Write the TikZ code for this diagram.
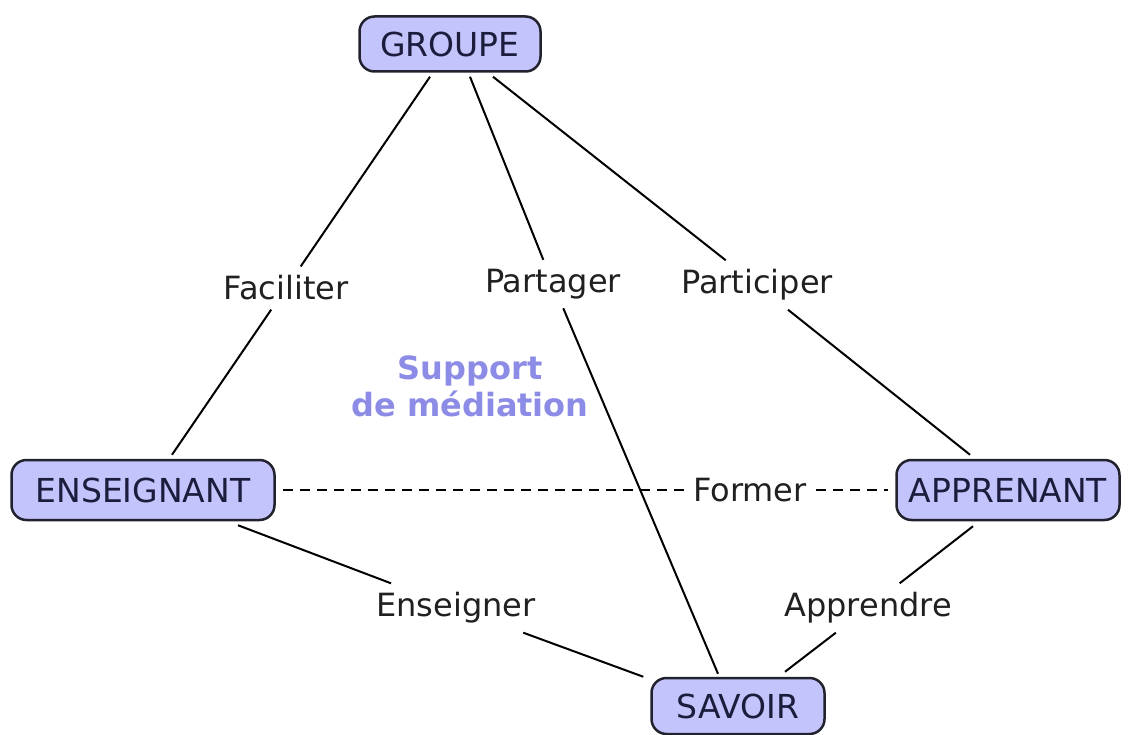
\documentclass[tikz,border=0pt]{standalone}
\usepackage{fontspec}
\setmainfont{DejaVu Sans}
\definecolor{boxfill}{HTML}{C4C4FC}
\definecolor{boxtext}{HTML}{1C1C3C}
\definecolor{boxdraw}{HTML}{22222E}
\definecolor{suppcol}{HTML}{8C8CE6}
\definecolor{labtext}{HTML}{202020}
\begin{document}
\begin{tikzpicture}[x=1pt,y=-1pt,
  concept/.style={draw=boxdraw, line width=2.5pt, fill=boxfill, rounded corners=15pt,
     text=boxtext, font=\fontsize{33}{38}\selectfont, inner sep=0pt},
  lab/.style={text=labtext, font=\fontsize{32}{37}\selectfont, inner sep=9pt},
  link/.style={draw=black, line width=2pt},
  dlink/.style={draw=black, line width=2pt, dash pattern=on 10pt off 7pt}]
\useasboundingbox (0,0) rectangle (1129,735);
\node[concept, minimum width=181pt, minimum height=55pt] (G) at (450,44) {GROUPE};
\node[concept, minimum width=263pt, minimum height=60pt] (E) at (143,490) {ENSEIGNANT};
\node[concept, minimum width=223pt, minimum height=60pt] (A) at (1008,490) {APPRENANT};
\node[concept, minimum width=173pt, minimum height=56pt] (S) at (738,706) {SAVOIR};

\node[lab] (fac) at (286,288) {Faciliter};
\node[lab] (par) at (553,284) {Partager};
\node[lab] (pcp) at (757,285) {Participer};
\node[lab] (for) at (750,490) {Former};
\node[lab] (ens) at (456,608) {Enseigner};
\node[lab] (app) at (868,608) {Apprendre};

\node[text=suppcol, font=\bfseries\fontsize{32}{37}\selectfont, align=center] (sup) at (470,386) {Support\\de médiation};

% yshift is in page direction: positive = up
\coordinate (g1) at ([xshift=-20pt,yshift=-4pt]G.south);
\coordinate (g2) at ([xshift=20pt,yshift=-4pt]G.south);
\coordinate (g3) at ([xshift=43pt,yshift=-4pt]G.south);
\coordinate (e1) at ([xshift=29pt,yshift=4pt]E.north);
\coordinate (e2) at ([xshift=95pt,yshift=-4pt]E.south);
\coordinate (a1) at ([xshift=-38pt,yshift=4pt]A.north);
\coordinate (a2) at ([xshift=-35pt,yshift=-5pt]A.south);
\coordinate (s0) at ([xshift=-7pt,yshift=0pt]S.north west);
\coordinate (s1) at ([xshift=-20pt,yshift=3pt]S.north);
\coordinate (s2) at ([xshift=47pt,yshift=5pt]S.north);
\draw[link] (g1) -- (fac) -- (e1);
\draw[link] (g2) -- (par) -- (s1);
\draw[link] (g3) -- (pcp) -- (a1);
\draw[link] (e2) -- (ens) -- (s0);
\draw[link] (a2) -- (app) -- (s2);
\draw[dlink] ([xshift=7pt]E.east) -- (for) -- ([xshift=-7pt]A.west);
\end{tikzpicture}
\end{document}
